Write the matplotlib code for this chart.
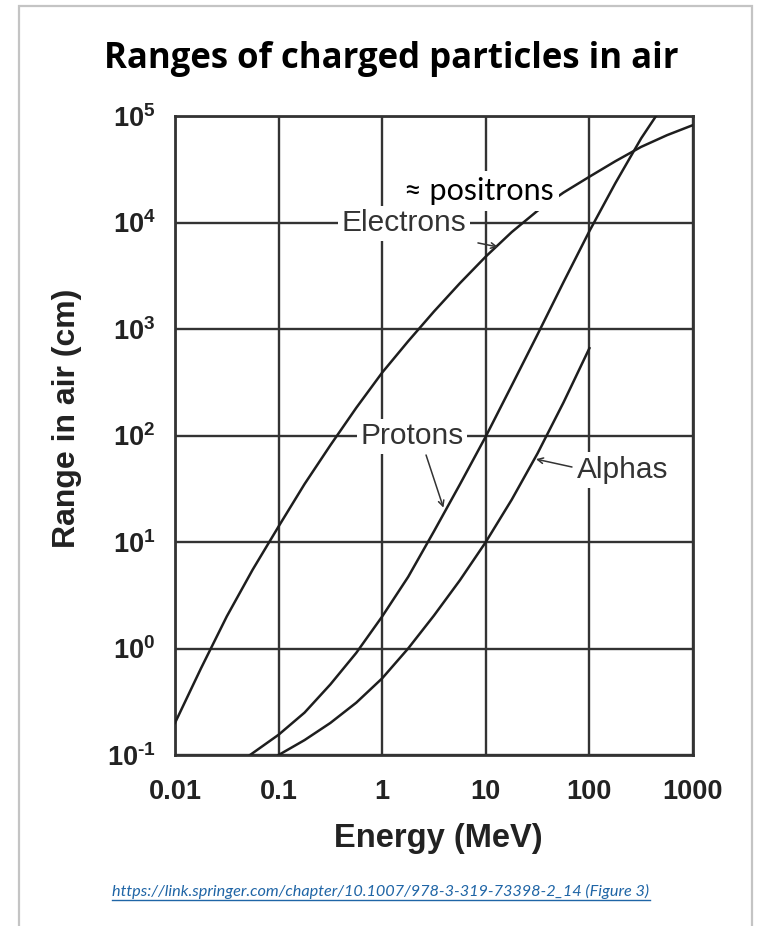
import matplotlib
matplotlib.use("Agg")
import matplotlib.pyplot as plt
from matplotlib.patches import Rectangle
from matplotlib.lines import Line2D

# values (energy in MeV, range in cm)
electron_energy = [0.01, 0.0178, 0.0316, 0.0562, 0.1, 0.178, 0.316, 0.562, 1, 1.78, 3.16, 5.62,
                   10, 17.8, 31.6, 56.2, 100, 178, 316, 562, 1000]
electron_range = [0.2, 0.65, 2.0, 5.5, 14, 35, 81, 182, 390, 767, 1460, 2690,
                  4790, 8130, 12900, 19100, 26900, 37600, 51300, 66100, 82200]

proton_energy = [0.053, 0.1, 0.178, 0.316, 0.562, 1, 1.78, 3.16, 5.62, 10, 17.8, 31.6, 56.2,
                 100, 178, 316, 440]
proton_range = [0.1, 0.155, 0.25, 0.46, 0.91, 2.0, 4.7, 12.6, 34.7, 98, 295, 890, 2750,
                8300, 23400, 61700, 100000]

alpha_energy = [0.1, 0.178, 0.316, 0.562, 1, 1.78, 3.16, 5.62, 10, 17.8, 31.6, 56.2, 100]
alpha_range = [0.1, 0.138, 0.2, 0.31, 0.525, 1.0, 2.04, 4.37, 10, 25, 68, 204, 660]

x_ticks = [0.01, 0.1, 1, 10, 100, 1000]
x_tick_labels = ["0.01", "0.1", "1", "10", "100", "1000"]
y_ticks = [1e-1, 1e0, 1e1, 1e2, 1e3, 1e4, 1e5]
y_tick_labels = [r"$\mathrm{10^{\text{-}1}}$", r"$\mathrm{10^{0}}$", r"$\mathrm{10^{1}}$",
                 r"$\mathrm{10^{2}}$", r"$\mathrm{10^{3}}$", r"$\mathrm{10^{4}}$", r"$\mathrm{10^{5}}$"]

plt.rcParams["mathtext.fontset"] = "custom"
plt.rcParams["mathtext.rm"] = "Liberation Sans:bold"
plt.rcParams["mathtext.it"] = "Liberation Sans:bold"
plt.rcParams["mathtext.bf"] = "Liberation Sans:bold"

W, H = 758, 926
fig = plt.figure(figsize=(W / 100, H / 100), dpi=100)
fig.patch.set_facecolor("white")

# light frame round the slide
fig.patches.append(Rectangle((19 / W, -0.05), (752 - 19) / W, 1.05 - 6 / H,
                             transform=fig.transFigure, fill=False,
                             edgecolor="#c4c4c4", lw=1.6))

ax = fig.add_axes([175 / W, 1 - 755 / H, (693 - 175) / W, (755 - 116) / H])
ax.set_xscale("log")
ax.set_yscale("log")
ax.set_xlim(0.01, 1000)
ax.set_ylim(0.1, 1e5)

line_kw = dict(color="#1e1e1e", lw=1.8, zorder=3)
ax.plot(electron_energy, electron_range, **line_kw)
ax.plot(proton_energy, proton_range, **line_kw)
ax.plot(alpha_energy, alpha_range, **line_kw)

ax.set_xticks(x_ticks)
ax.set_xticklabels(x_tick_labels)
ax.set_yticks(y_ticks)
ax.set_yticklabels(y_tick_labels)
ax.minorticks_off()
ax.tick_params(axis="both", length=0, labelsize=19.5, colors="#222222")
ax.tick_params(axis="x", pad=17)
ax.tick_params(axis="y", pad=14)
for lab in ax.get_xticklabels():
    lab.set_family("Liberation Sans")
    lab.set_fontweight("bold")

ax.grid(True, which="major", color="#333333", lw=1.7, zorder=1)
for sp in ax.spines.values():
    sp.set_color("#333333")
    sp.set_linewidth(2)

# labels on the curves
lab_kw = dict(family="Liberation Sans", fontsize=21.5, color="#333333",
              ha="center", va="center", zorder=5,
              bbox=dict(boxstyle="square,pad=0.12", fc="white", ec="none"))
ax.text(1.62, 9800, "Electrons", **lab_kw)
ax.text(1.94, 98, "Protons", **lab_kw)
ax.text(211, 47.5, "Alphas", **lab_kw)

arrow_kw = dict(arrowstyle="->", color="#333333", lw=1.1, shrinkA=0, shrinkB=0)
ax.annotate("", xy=(13.1, 5890), xytext=(8.4, 6430), arrowprops=arrow_kw, zorder=4)
ax.annotate("", xy=(3.9, 21), xytext=(2.65, 65.6), arrowprops=arrow_kw, zorder=4)
ax.annotate("", xy=(30.5, 60), xytext=(67.9, 50.6), arrowprops=arrow_kw, zorder=4)

ax.text(8.5, 19800, "\u2248 positrons", family=["Lato", "DejaVu Sans"], fontsize=22,
        color="black", ha="center", va="center", zorder=6,
        bbox=dict(boxstyle="square,pad=0.2", fc="white", ec="none"))

# axis titles
fig.text(438 / W, 1 - 847 / H, "Energy (MeV)", family="Liberation Sans", fontweight="bold",
         fontsize=23.5, color="#222222", ha="center", va="baseline")
fig.text(67 / W, 1 - 418 / H, "Range in air (cm)", family="Liberation Sans", fontweight="bold",
         fontsize=23, color="#222222", ha="center", va="center", rotation=90)

fig.text(391 / W, 1 - 68 / H, "Ranges of charged particles in air", family="Open Sans",
         fontweight="bold", fontsize=25, color="black", ha="center", va="baseline")

link = fig.text(381 / W, 1 - 896 / H,
                "https://link.springer.com/chapter/10.1007/978-3-319-73398-2_14 (Figure 3)",
                family="Lato", style="italic", fontsize=11.7, color="#1f65a6",
                ha="center", va="baseline")

fig.canvas.draw()
bb = link.get_window_extent().transformed(fig.transFigure.inverted())
uy = 1 - 900 / H
fig.lines.append(Line2D([bb.x0, bb.x1], [uy, uy], transform=fig.transFigure,
                        color="#1f65a6", lw=1))

fig.savefig("out.png", dpi=100, facecolor="white")
